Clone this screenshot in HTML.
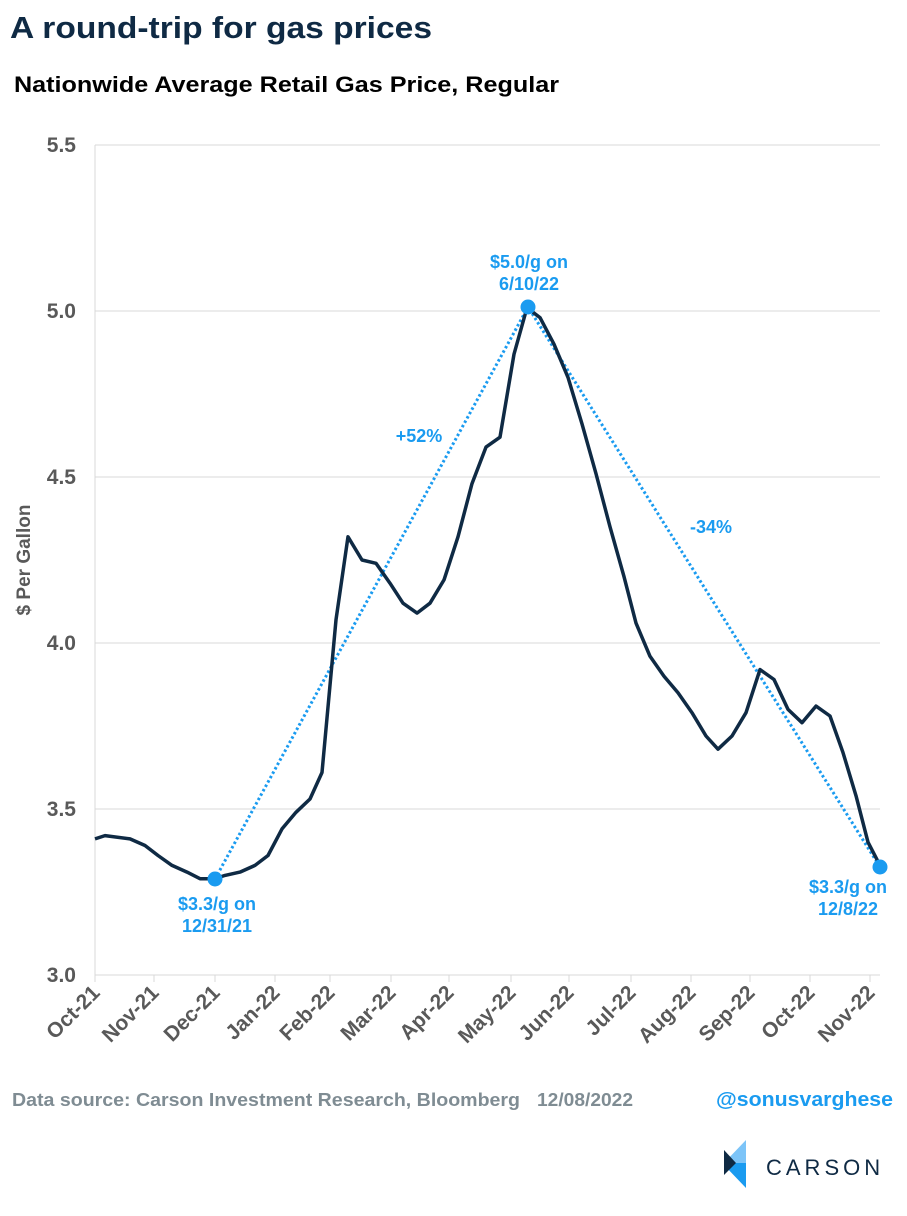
<!DOCTYPE html>
<html><head><meta charset="utf-8"><style>
body{margin:0;width:907px;height:1211px;background:#fff;font-family:"Liberation Sans",Arial,sans-serif;overflow:hidden}
</style></head><body>
<svg width="907" height="1211" xmlns="http://www.w3.org/2000/svg" font-family="Liberation Sans, Arial, sans-serif">
<text x="10" y="38" font-size="31" font-weight="bold" fill="#0f2a44" textLength="422" lengthAdjust="spacingAndGlyphs">A round-trip for gas prices</text>
<text x="14" y="92" font-size="22" font-weight="bold" fill="#000" textLength="545" lengthAdjust="spacingAndGlyphs">Nationwide Average Retail Gas Price, Regular</text>
<g id="grid" stroke="#d9d9d9" stroke-width="1"></g>
<line x1="95" y1="145" x2="95" y2="975" stroke="#d9d9d9"/>
<g id="ylab" font-size="21" font-weight="bold" fill="#595959" text-anchor="end"></g>
<text transform="translate(30,560) rotate(-90)" font-size="19" font-weight="bold" fill="#595959" text-anchor="middle">$ Per Gallon</text>
<g id="xlab" font-size="21" font-weight="bold" fill="#595959" text-anchor="end"></g>
<polyline points="215,879 528,307 880,867" fill="none" stroke="#1a9bf0" stroke-width="3" stroke-dasharray="2.5,2.5"/>
<path id="line" fill="none" stroke="#0f2a44" stroke-width="3.5" stroke-linejoin="round"/>
<circle cx="215" cy="879" r="7.5" fill="#1a9bf0"/>
<circle cx="528" cy="307" r="7.5" fill="#1a9bf0"/>
<circle cx="880" cy="867" r="7.5" fill="#1a9bf0"/>
<g font-size="18" font-weight="bold" fill="#1a9bf0" text-anchor="middle">
<text x="529" y="268">$5.0/g on</text><text x="529" y="290">6/10/22</text>
<text x="217" y="910">$3.3/g on</text><text x="217" y="932">12/31/21</text>
<text x="848" y="893">$3.3/g on</text><text x="848" y="915">12/8/22</text>
<text x="419" y="442">+52%</text><text x="711" y="533">-34%</text>
</g>
<text x="12" y="1106" font-size="18" font-weight="bold" fill="#7f8c93" textLength="508" lengthAdjust="spacingAndGlyphs">Data source: Carson Investment Research, Bloomberg</text>
<text x="537" y="1106" font-size="18" font-weight="bold" fill="#7f8c93" textLength="96" lengthAdjust="spacingAndGlyphs">12/08/2022</text>
<text x="893" y="1106" font-size="20" font-weight="bold" fill="#1a9bf0" text-anchor="end" textLength="177" lengthAdjust="spacingAndGlyphs">@sonusvarghese</text>
<polygon points="746,1140 746,1163 724,1163" fill="#7cc4f8"/>
<polygon points="724,1163 746,1163 746,1188 724,1165" fill="#1a9bf0"/>
<polygon points="724,1150 736,1163 724,1175" fill="#0f2a44"/>
<text x="766" y="1175" font-size="22" fill="#0f2a44" letter-spacing="4">CARSON</text>
</svg>
<script>
var ns="http://www.w3.org/2000/svg";
function Y(v){return 975-(v-3)*332;}
var g=document.getElementById('grid'),yl=document.getElementById('ylab'),xl=document.getElementById('xlab');
[3,3.5,4,4.5,5,5.5].forEach(function(v){var l=document.createElementNS(ns,'line');l.setAttribute('x1',95);l.setAttribute('x2',880);l.setAttribute('y1',Y(v));l.setAttribute('y2',Y(v));g.appendChild(l);
var t=document.createElementNS(ns,'text');t.setAttribute('x',76);t.setAttribute('y',Y(v)+7);t.textContent=v.toFixed(1);yl.appendChild(t);});
var xs=[95,154,215,275,330,391,449,511,569,631,691,750,810,870];
var ms=['Oct-21','Nov-21','Dec-21','Jan-22','Feb-22','Mar-22','Apr-22','May-22','Jun-22','Jul-22','Aug-22','Sep-22','Oct-22','Nov-22'];
xs.forEach(function(x,i){var l=document.createElementNS(ns,'line');l.setAttribute('x1',x);l.setAttribute('x2',x);l.setAttribute('y1',975);l.setAttribute('y2',982);g.appendChild(l);
var t=document.createElementNS(ns,'text');t.setAttribute('transform','translate('+(x+6)+',994) rotate(-45)');t.textContent=ms[i];xl.appendChild(t);});
var d=[[95,3.41],[105,3.42],[130,3.41],[145,3.39],[158,3.36],[172,3.33],[187,3.31],[200,3.29],[215,3.29],[225,3.30],[240,3.31],[255,3.33],[268,3.36],[282,3.44],[296,3.49],[310,3.53],[322,3.61],[336,4.07],[348,4.32],[362,4.25],[376,4.24],[390,4.18],[403,4.12],[417,4.09],[430,4.12],[444,4.19],[458,4.32],[472,4.48],[486,4.59],[500,4.62],[514,4.87],[527,5.01],[540,4.98],[554,4.90],[568,4.80],[582,4.66],[596,4.51],[610,4.35],[624,4.20],[636,4.06],[650,3.96],[664,3.90],[678,3.85],[692,3.79],[706,3.72],[718,3.68],[732,3.72],[746,3.79],[760,3.92],[774,3.89],[788,3.80],[802,3.76],[816,3.81],[830,3.78],[843,3.67],[856,3.54],[868,3.40],[880,3.33]];
document.getElementById('line').setAttribute('d','M'+d.map(function(p){return p[0]+','+Y(p[1]).toFixed(1);}).join(' L'));
</script>
</body></html>
